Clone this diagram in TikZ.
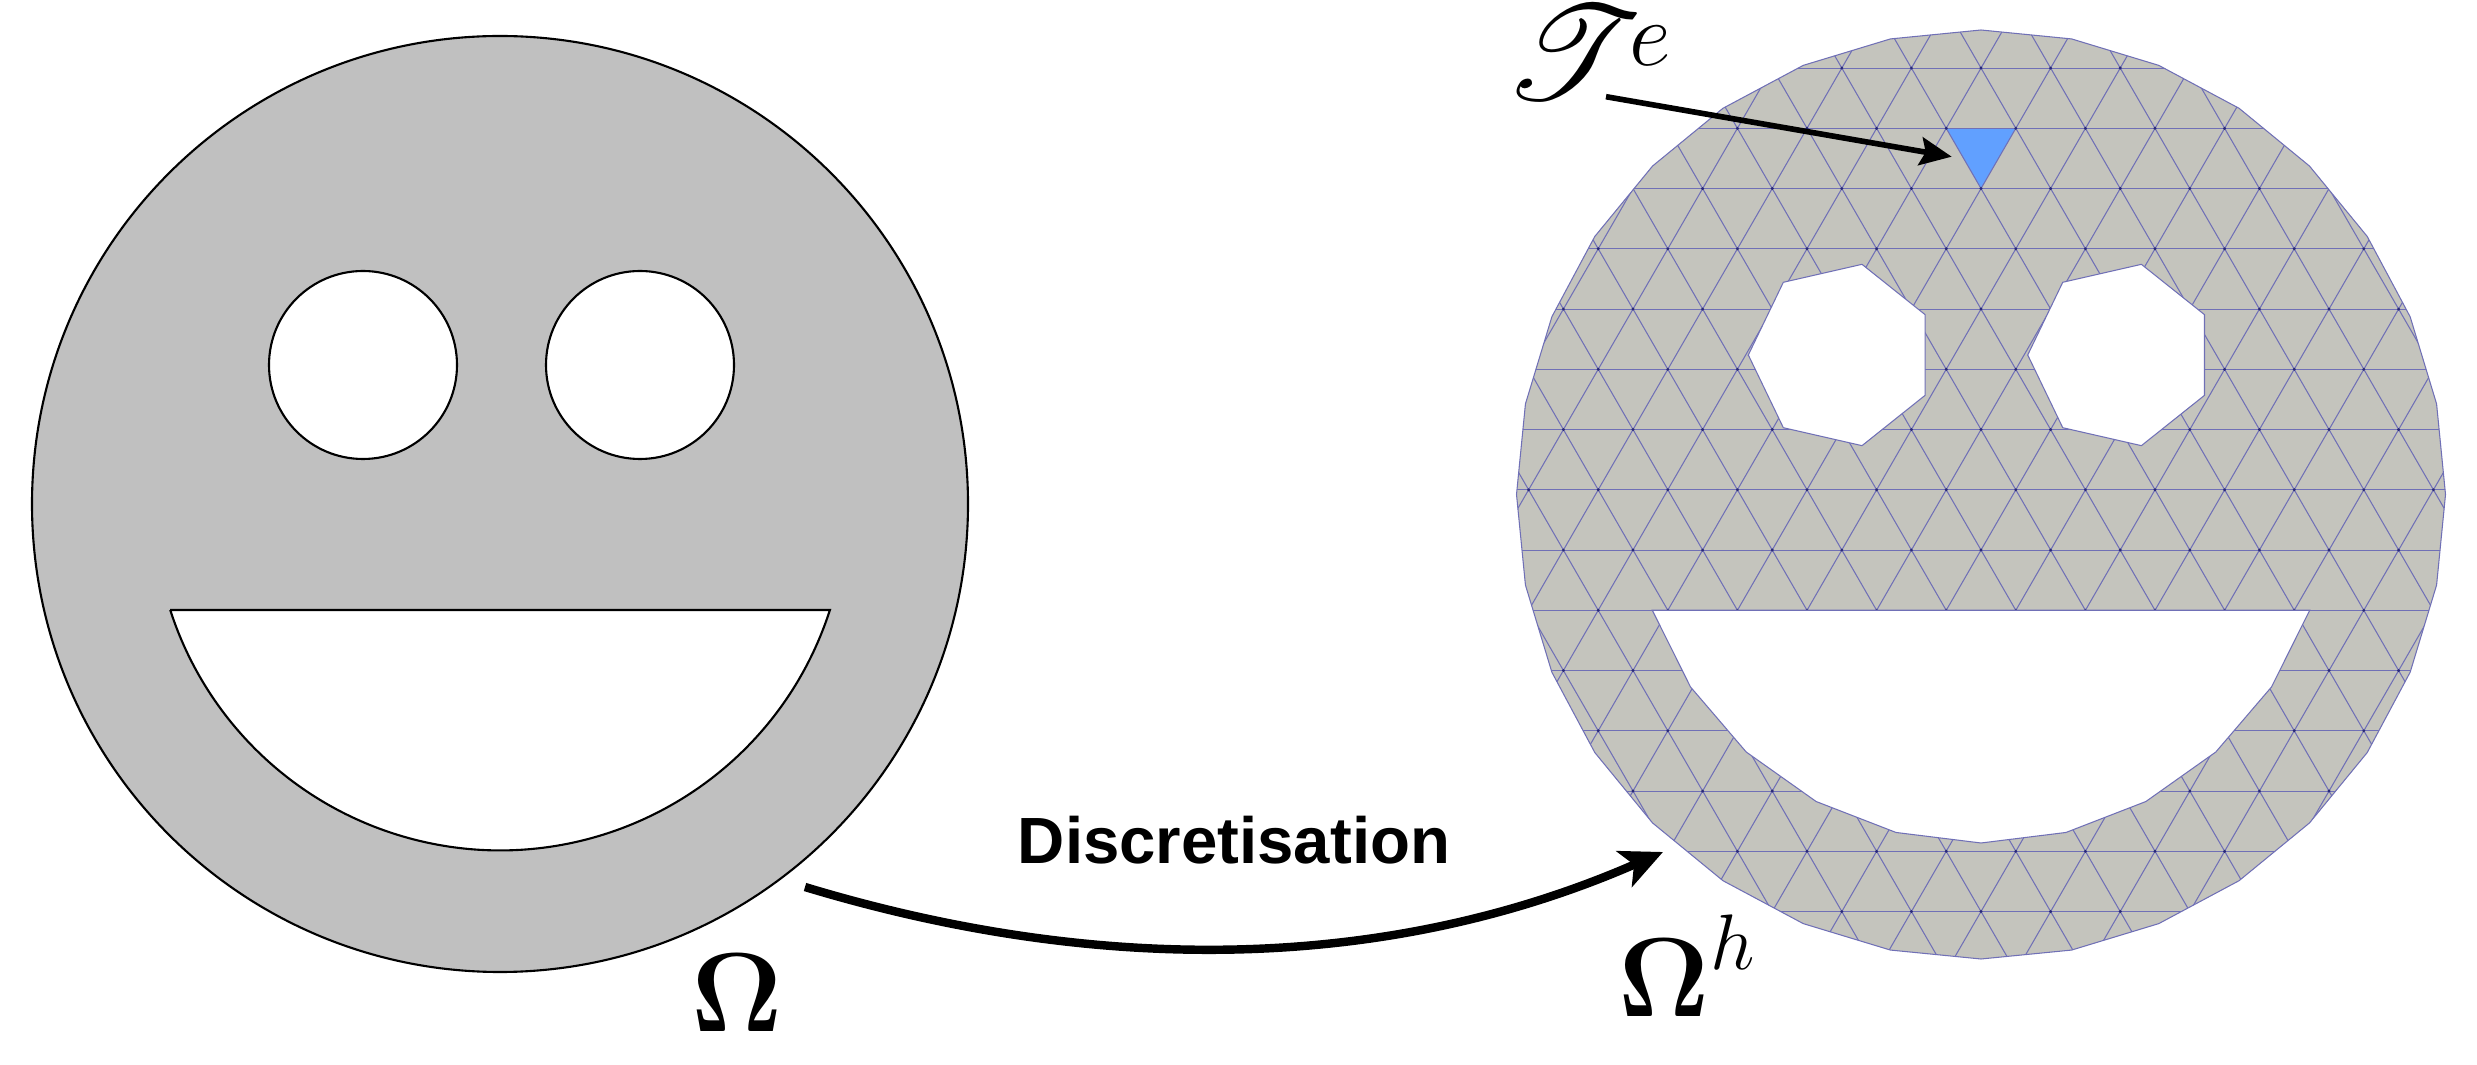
\RequirePackage{fix-cm}
\documentclass[tikz,border=0pt]{standalone}
\usepackage{amsmath}
\usepackage{mathrsfs}
\usepackage[no-math]{fontspec}
\usepackage{xcolor}
\usepackage{tikz}
\usetikzlibrary{arrows.meta, positioning}

\DeclareFontFamily{U}{rsfs}{\skewchar\font127 }
\DeclareFontShape{U}{rsfs}{m}{n}{<-6> rsfs5 <6-8> rsfs7 <8-> rsfs10}{}
\newfontfamily\labelsans{Liberation Sans}

\definecolor{facegray}{RGB}{192,192,192}
\definecolor{meshgray}{RGB}{196,196,189}
\definecolor{meshblue}{RGB}{112,112,182}
\definecolor{nodeblue}{RGB}{40,40,120}
\definecolor{elemblue}{RGB}{97,160,255}

\begin{document}
\begin{tikzpicture}[x=0.1mm, y=-0.1mm, >=Stealth,
    face/.style={draw=black, line width=0.6pt, fill=facegray, even odd rule},
    edge/.style={draw=meshblue, line width=0.3pt},
    meshouter/.style={insert path={
        plot[samples=33, domain=0:360, variable=\t] ({1981+464.5*cos(\t-90)}, {494.5+464.5*sin(\t-90)}) -- cycle}},
    meshholes/.style={insert path={
        plot[samples=8, domain=0:360, variable=\t] ({1841.3+93*cos(\t+180)}, {355+93*sin(\t+180)}) -- cycle
        plot[samples=8, domain=0:360, variable=\t] ({2120.7+93*cos(\t+180)}, {355+93*sin(\t+180)}) -- cycle
        plot[samples=11, domain=19.4:160.6, variable=\t] ({1981+348.5*cos(\t)}, {494.5+348.5*sin(\t)}) -- cycle}},
    mathlbl/.style={inner sep=0pt, font=\fontsize{32}{38}\selectfont},
    ptr/.style={-{Stealth[length=9pt, width=8pt, inset=1.5pt]}, line width=1.6pt},
    bigptr/.style={-{Stealth[length=12pt, width=11pt, inset=3pt]}, line width=2.4pt}]

\useasboundingbox (0,0) rectangle (2477,1065);

% smooth domain
\path[face] (500,504) circle[radius=468]
    (363,365) circle[radius=94] (640,365) circle[radius=94]
    (170.1,610) -- (829.9,610) arc[start angle=17.84, end angle=162.16, radius=346.5] -- cycle;

% mesh
\fill[meshgray, meshouter];
\begin{scope}
    \clip[meshouter];
    \fill[elemblue] (1946.2,128.3) -- (2015.8,128.3) -- (1981,188.55) -- cycle;
    \foreach \k in {-2,...,14}
        \draw[edge] (1450,{128.3+\k*60.25}) -- (2500,{128.3+\k*60.25});
    \foreach \m in {-15,...,15} {
        \draw[edge] ({1946.2+\m*69.6-104.4},-52.45) -- ++(626.4,1084.5);
        \draw[edge] ({1946.2+\m*69.6+104.4},-52.45) -- ++(-626.4,1084.5);
    }
    \foreach \k in {-2,...,14}
        \foreach \m in {-14,...,9}
            \fill[nodeblue] ({1946.2+\m*69.6+\k*34.8},{128.3+\k*60.25}) circle[radius=1.6];
\end{scope}
\fill[white, meshholes];
\draw[edge, meshouter, meshholes];

% labels
\node[mathlbl, anchor=base] (omega) at (737,1031) {$\boldsymbol{\Omega}$};
\node[mathlbl, anchor=base west] (omegah) at (1618,1016) {$\boldsymbol{\Omega}^{h}$};
\node[mathlbl, anchor=base west, font=\fontsize{38}{44}\selectfont] (telem) at (1504,100)
    {$\mathscr{T}$\hspace{-0.1em}\raisebox{0.26em}{\fontsize{26}{30}\selectfont$e$}};
\node[anchor=base, inner sep=0pt, font=\labelsans\bfseries\fontsize{18.6}{22}\selectfont] (disc) at (1234,863) {Discretisation};

% arrows
\coordinate (tfoot) at (1606,96.7);
\coordinate (elemtip) at (1951.7,156.7);
\draw[ptr] (tfoot) -- (elemtip);

\coordinate (dstart) at (805,887);
\coordinate (dend) at (1663,852);
\draw[bigptr] (dstart) .. controls (1111.7,979.7) and (1397.7,968) .. (dend);
\end{tikzpicture}
\end{document}
